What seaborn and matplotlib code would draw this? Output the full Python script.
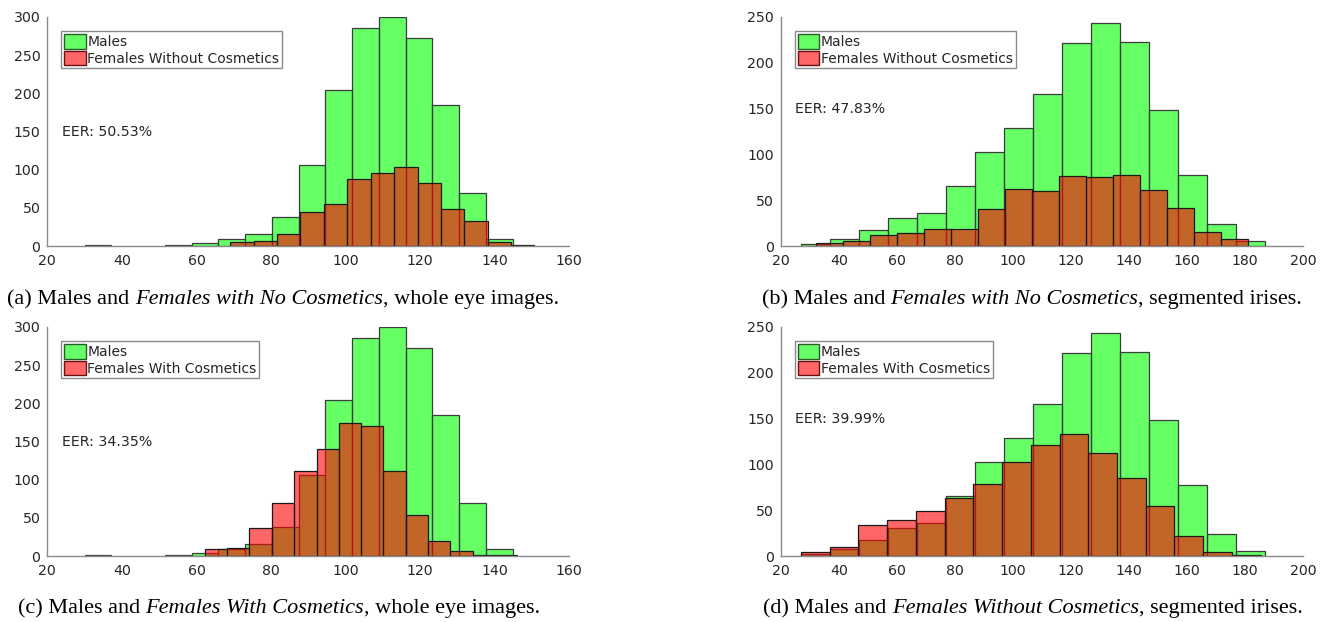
import numpy as np
import pandas as pd
import matplotlib
matplotlib.use("Agg")
import matplotlib.pyplot as plt
import seaborn as sns
from matplotlib.patches import Patch
from matplotlib.transforms import IdentityTransform, blended_transform_factory

# ---------------- data ----------------
# whole eye images
males_eye_edges = [30.0, 37.2, 44.3, 51.5, 58.7, 65.9, 73.0, 80.2, 87.4, 94.6,
                   101.7, 108.9, 116.1, 123.3, 130.4, 137.6, 144.8]
males_eye_counts = [1, 0, 0, 1, 4, 9, 16, 38, 106, 205, 285, 300, 273, 185, 70, 9]

fnc_eye_edges = [69.1, 75.4, 81.6, 87.9, 94.2, 100.4, 106.7, 113.0, 119.3, 125.5,
                 131.8, 138.1, 144.4, 150.6]
fnc_eye_counts = [5, 6, 16, 45, 55, 88, 95, 104, 83, 48, 33, 5, 1]

fwc_eye_edges = [62.3, 68.3, 74.2, 80.2, 86.2, 92.2, 98.2, 104.2, 110.1, 116.1,
                 122.1, 128.1, 134.1, 140.0, 146.0]
fwc_eye_counts = [9, 10, 37, 69, 112, 140, 174, 170, 112, 54, 19, 7, 1, 1]

# segmented irises
males_iris_edges = [27, 37, 47, 57, 67, 77, 87, 97, 107, 117, 127, 137, 147, 157,
                    167, 177, 187]
males_iris_counts = [2, 8, 17, 31, 36, 65, 103, 129, 166, 222, 243, 223, 148, 77, 24, 5]

fnc_iris_edges = [32.1, 41.4, 50.7, 60.0, 69.3, 78.6, 87.9, 97.2, 106.5, 115.8,
                  125.1, 134.4, 143.7, 153.0, 162.3, 171.6, 180.9]
fnc_iris_counts = [3, 6, 12, 14, 19, 19, 40, 62, 60, 76, 75, 77, 61, 41, 15, 8]

fwc_iris_edges = [27.0, 36.9, 46.8, 56.7, 66.6, 76.5, 86.4, 96.3, 106.2, 116.1,
                  126.0, 135.9, 145.8, 155.7, 165.6, 175.5, 185.4]
fwc_iris_counts = [4, 10, 34, 39, 49, 63, 79, 103, 121, 133, 112, 85, 55, 22, 4, 1]

male_label = "Males"
fnc_label = "Females Without Cosmetics"
fwc_label = "Females With Cosmetics"

eer_labels = ["EER: 50.53%", "EER: 47.83%", "EER: 34.35%", "EER: 39.99%"]

captions = [
    [("(a) Males and ", "normal"), ("Females with No Cosmetics", "italic"), (", whole eye images.", "normal")],
    [("(b) Males and ", "normal"), ("Females with No Cosmetics", "italic"), (", segmented irises.", "normal")],
    [("(c) Males and ", "normal"), ("Females With Cosmetics", "italic"), (", whole eye images.", "normal")],
    [("(d) Males and ", "normal"), ("Females Without Cosmetics", "italic"), (", segmented irises.", "normal")],
]

# ---------------- style ----------------
sns.set_theme(style="white")
plt.rcParams["font.family"] = ["DejaVu Sans"]

GREEN = (0.0, 1.0, 0.0)
RED = (1.0, 0.0, 0.0)
GREEN_EDGE = "#3c3c3c"
RED_EDGE = "#1a1a1a"
AXIS_GRAY = "#8a8a8a"
TXT = "#262626"
TICK_SIZE = 10.2
LEG_SIZE = 10.0

W, H = 1331, 622
fig = plt.figure(figsize=(W / 100, H / 100), dpi=100)


def ax_rect(x0, x1, ytop, ybot):
    return [x0 / W, 1 - ybot / H, (x1 - x0) / W, (ybot - ytop) / H]


rects = [
    ax_rect(47.3, 569.3, 17, 246),
    ax_rect(780.7, 1303.0, 17, 246),
    ax_rect(47.3, 569.3, 327, 556),
    ax_rect(780.7, 1303.0, 327, 556),
]

panels = [
    (males_eye_edges, males_eye_counts, fnc_eye_edges, fnc_eye_counts, fnc_label, (20, 160), 300),
    (males_iris_edges, males_iris_counts, fnc_iris_edges, fnc_iris_counts, fnc_label, (20, 200), 250),
    (males_eye_edges, males_eye_counts, fwc_eye_edges, fwc_eye_counts, fwc_label, (20, 160), 300),
    (males_iris_edges, males_iris_counts, fwc_iris_edges, fwc_iris_counts, fwc_label, (20, 200), 250),
]


def draw_hist(ax, edges, counts, rgb, edge):
    e = [float(v) for v in edges]
    centers = [(a + b) / 2 for a, b in zip(e[:-1], e[1:])]
    df = pd.DataFrame({"score": centers, "n": [float(c) for c in counts]})
    n0 = len(ax.patches)
    sns.histplot(data=df, x="score", weights="n", bins=e, ax=ax, stat="count",
                 element="bars", fill=True, color=rgb, alpha=0.6,
                 edgecolor=edge, linewidth=0.9)
    for p in ax.patches[n0:]:
        p.set_alpha(None)
        p.set_facecolor((*rgb, 0.6))
        p.set_edgecolor(edge)
        if p.get_height() == 0:
            p.set_visible(False)


for i, (rect, pan) in enumerate(zip(rects, panels)):
    m_edges, m_counts, f_edges, f_counts, f_label, xlim, ymax = pan
    ax = fig.add_axes(rect)
    draw_hist(ax, m_edges, m_counts, GREEN, GREEN_EDGE)
    draw_hist(ax, f_edges, f_counts, RED, RED_EDGE)
    ax.set_xlim(*xlim)
    ax.set_ylim(0, ymax)
    ax.set_xticks(np.arange(xlim[0], xlim[1] + 1, 20))
    ax.set_yticks(np.arange(0, ymax + 1, 50))
    ax.set_xlabel("")
    ax.set_ylabel("")
    for s in ["top", "right"]:
        ax.spines[s].set_visible(False)
    for s in ["left", "bottom"]:
        ax.spines[s].set_color(AXIS_GRAY)
        ax.spines[s].set_linewidth(1.0)
    ax.tick_params(axis="both", direction="in", length=4, width=0.8,
                   color=AXIS_GRAY, labelcolor=TXT, labelsize=TICK_SIZE)
    ax.tick_params(axis="x", pad=5.5)
    ax.tick_params(axis="y", pad=5)
    ax.set_facecolor("white")

    handles = [Patch(facecolor=(*GREEN, 0.6), edgecolor="#2d5a2d", linewidth=1.0),
               Patch(facecolor=(*RED, 0.6), edgecolor="#6a1010", linewidth=1.0)]
    leg = ax.legend(handles, [male_label, f_label], loc="upper left",
                    bbox_to_anchor=(0.027, 0.938), fontsize=LEG_SIZE, frameon=True,
                    fancybox=False, framealpha=1.0, edgecolor="#8a8a8a",
                    borderpad=0.2, handlelength=1.55, handleheight=1.25,
                    handletextpad=0.12, labelspacing=0.12, borderaxespad=0.0)
    leg.get_frame().set_linewidth(1.0)
    for t in leg.get_texts():
        t.set_color(TXT)

    trans = blended_transform_factory(ax.transAxes, ax.transData)
    ax.text(0.028, 150, eer_labels[i], transform=trans, ha="left", va="center",
            fontsize=TICK_SIZE, color=TXT)

# ---------------- captions (mixed roman / italic) ----------------
renderer = fig.canvas.get_renderer()
cap_pos = [(283, 304), (1032, 304), (279, 613), (1033, 613)]
CAP_SIZE = 16.0
for parts, (cx, base) in zip(captions, cap_pos):
    items = []
    for s, style in parts:
        t = fig.text(0, H - base, s, transform=IdentityTransform(),
                     fontsize=CAP_SIZE, family=["Liberation Serif"], style=style,
                     color="black", ha="left", va="baseline")
        items.append(t)
    widths = [t.get_window_extent(renderer).width for t in items]
    x = cx - sum(widths) / 2
    for t, w in zip(items, widths):
        t.set_x(x)
        x += w

fig.savefig("out.png", dpi=100, facecolor="white")
